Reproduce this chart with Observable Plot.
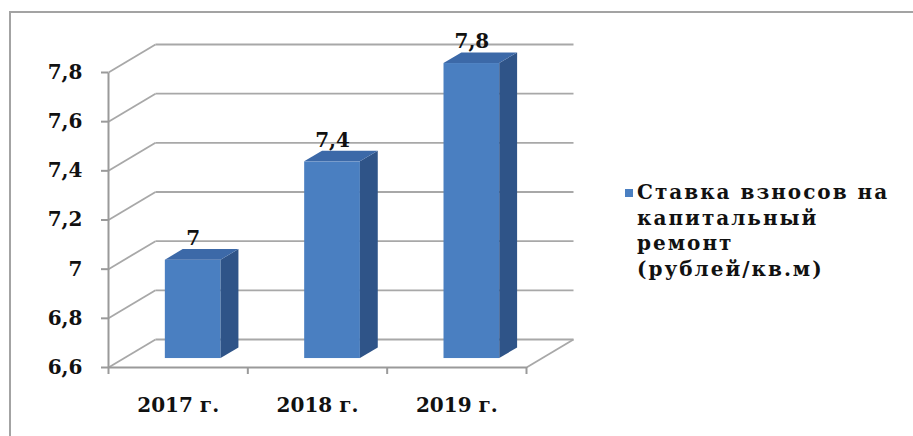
<!DOCTYPE html>
<html>
<head>
<meta charset="utf-8">
<script src="https://cdn.jsdelivr.net/npm/d3@7"></script>
<script src="https://cdn.jsdelivr.net/npm/@observablehq/plot@0.6"></script>
<style>
  html, body { margin: 0; padding: 0; background: #fff; }
  #wrap { position: relative; width: 913px; height: 436px; overflow: hidden; background: #fff; }
  #frame { position: absolute; left: 9px; top: 11px; width: 1000px; height: 1000px;
           border-left: 2px solid #a3a3a3; border-top: 2px solid #a3a3a3; box-sizing: border-box; }
  #chart { position: absolute; left: 0; top: 0; }
  #legend { position: absolute; left: 623px; top: 180px; font-family: "DejaVu Serif", serif;
            font-weight: bold; font-size: 20px; line-height: 25.5px; color: #111; letter-spacing: 2px; }
  #legend .row { position: relative; padding-left: 14px; white-space: nowrap; }
  #legend .sw { position: absolute; left: 2px; top: 9px; width: 8px; height: 8px; }
</style>
</head>
<body>
<div id="wrap">
  <div id="frame"></div>
  <div id="chart"></div>
  <div id="legend"></div>
</div>
<script>
// ---- data ----
const years = ["2017 г.", "2018 г.", "2019 г."];
const values = [7, 7.4, 7.8];
const valueLabels = ["7", "7,4", "7,8"];
const yTicks = [6.6, 6.8, 7, 7.2, 7.4, 7.6, 7.8];
const legendLines = ["Ставка взносов на", "капитальный", "ремонт", "(рублей/кв.м)"];

// ---- style / geometry ----
const W = 913, H = 436;
const mL = 108, mR = 387, mT = 72, mB = 69;
const yMin = 6.6, yMax = 7.8;
const depthPx = [47, -28];             // oblique offset of the back wall, in pixels
const kx = depthPx[0] * 3 / (W - mL - mR);               // in x units
const ky = -depthPx[1] * (yMax - yMin) / (H - mT - mB);  // in y units
const dF = 0.32, dB = 0.70, hw = 0.2;  // bar front/back depth, half width
const colFront = "#4a7fc1", colSide = "#2f5488", colTop = "#3c69a8";
const gridCol = "#a8a8a8";

const P = (x, y, d) => ({x: x + d * kx, y: y + d * ky});

const bars = years.map((year, i) => ({year, value: values[i], label: valueLabels[i], c: i + 0.5}));

const fronts = bars.map(b => ({
  year: b.year,
  x1: b.c - hw + dF * kx, x2: b.c + hw + dF * kx,
  y1: yMin + dF * ky, y2: b.value + dF * ky
}));
const sides = bars.flatMap(b => [dF, dB].map(d => ({
  year: b.year, x: b.c + hw + d * kx, y1: yMin + d * ky, y2: b.value + d * ky
})));
const tops = bars.flatMap(b => [dF, dB].map(d => ({
  year: b.year, y: b.value + d * ky, x1: b.c - hw + d * kx, x2: b.c + hw + d * kx
})));

// grid: back wall lines and left wall diagonals
const backLines = yTicks.map(v => ({a: P(0, v, 1), b: P(3, v, 1)}));
const sideLines = yTicks.map(v => ({a: P(0, v, 0), b: P(0, v, 1)}));
const floorLines = [
  {a: P(3, yMin, 0), b: P(3, yMin, 1)}
];
const frontLines = [
  {a: P(0, yMin, 0), b: P(3, yMin, 0)},
  {a: P(0, yMin, 0), b: P(0, yMax, 0)}
];

const fmt = d => String(d).replace(".", ",");

const chart = Plot.plot({
  width: W, height: H,
  marginLeft: mL, marginRight: mR, marginTop: mT, marginBottom: mB,
  x: {type: "linear", domain: [0, 3]},
  y: {type: "linear", domain: [yMin, yMax]},
  style: {fontFamily: "'DejaVu Serif', serif", fontWeight: "bold", fontSize: "20px", background: "transparent", color: "#111"},
  marks: [
    Plot.link(backLines, {x1: d => d.a.x, y1: d => d.a.y, x2: d => d.b.x, y2: d => d.b.y, stroke: gridCol, strokeWidth: 1.8}),
    Plot.link(sideLines, {x1: d => d.a.x, y1: d => d.a.y, x2: d => d.b.x, y2: d => d.b.y, stroke: gridCol, strokeWidth: 1.8}),
    Plot.link(floorLines, {x1: d => d.a.x, y1: d => d.a.y, x2: d => d.b.x, y2: d => d.b.y, stroke: gridCol, strokeWidth: 1.8}),
    Plot.link(frontLines, {x1: d => d.a.x, y1: d => d.a.y, x2: d => d.b.x, y2: d => d.b.y, stroke: "#9a9a9a", strokeWidth: 2}),
    Plot.axisY({ticks: yTicks, tickSize: 7, tickPadding: 19, tickFormat: fmt, stroke: "#9a9a9a", strokeWidth: 2,
                label: null, fontSize: 20, fontWeight: "bold"}),
    Plot.axisX({ticks: [0, 1, 2, 3], tickSize: 7, tickFormat: () => "", stroke: "#9a9a9a", strokeWidth: 2, label: null}),
    Plot.axisX({ticks: bars.map(b => b.c), tickSize: 0, tickPadding: 30, tickFormat: d => years[Math.floor(d)],
                label: null, fontSize: 20, fontWeight: "bold"}),
    Plot.rect(fronts, {x1: "x1", x2: "x2", y1: "y1", y2: "y2", fill: colFront}),
    Plot.areaY(sides, {x: "x", y1: "y1", y2: "y2", z: "year", fill: colSide}),
    Plot.areaX(tops, {y: "y", x1: "x1", x2: "x2", z: "year", fill: colTop}),
    Plot.text(bars, {x: b => b.c + dF * kx, y: b => b.value + dB * ky, text: "label", dy: -11,
                     lineAnchor: "middle", textAnchor: "middle", fontSize: 20, fontWeight: "bold", fill: "#111"})
  ]
});
document.getElementById("chart").appendChild(chart);

const legend = document.getElementById("legend");
legendLines.forEach((line, i) => {
  const row = document.createElement("div");
  row.className = "row";
  if (i === 0) {
    const sw = document.createElement("span");
    sw.className = "sw";
    sw.style.background = colFront;
    row.appendChild(sw);
  }
  row.appendChild(document.createTextNode(line));
  legend.appendChild(row);
});
</script>
</body>
</html>
